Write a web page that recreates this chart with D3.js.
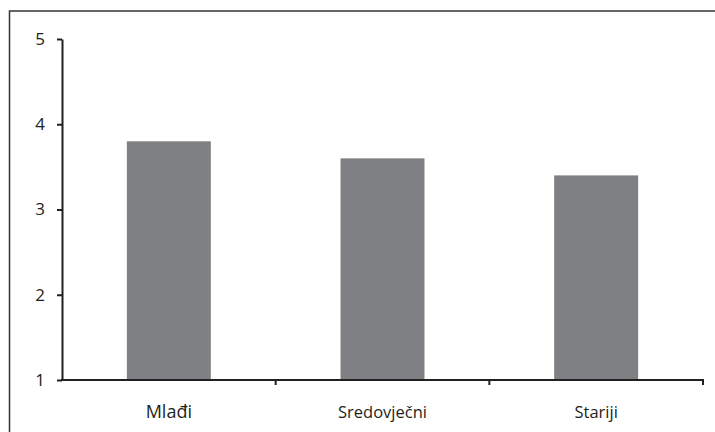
<!DOCTYPE html>
<html lang="hr">
<head>
  <meta charset="UTF-8">
  <title>Mlađi / Sredovječni / Stariji</title>
  <script src="https://d3js.org/d3.v7.min.js"></script>
  <style>
    body { margin: 0; background: #fff; }
    .axis path, .axis line { stroke: #231f20; stroke-width: 2px; }
    .cat { font-family: "Open Sans", sans-serif; fill: #231f20; }
  </style>
</head>
<body>
  <svg id="chart" width="715" height="432"></svg>
  <script>
    const categories = ["Mlađi", "Sredovječni", "Stariji"];
    const values = [3.8, 3.6, 3.4];
    const yTicks = [1, 2, 3, 4, 5];
    const labelSizes = [18, 16.5, 16.5];

    const width = 715, height = 432;
    const svg = d3.select("#chart");

    // frame (only top and left edges show in the picture)
    svg.append("path")
      .attr("d", `M9.5,${height} V11 H${width}`)
      .attr("fill", "none")
      .attr("stroke", "#333")
      .attr("stroke-width", 1.5);

    const x = d3.scaleBand().domain(categories).range([62, 703]).padding(0);
    const y = d3.scaleLinear().domain([1, 5]).range([380, 39]);
    const barW = x.bandwidth() * 0.393;

    // bars
    svg.append("g")
      .selectAll("rect")
      .data(values)
      .join("rect")
      .attr("x", (d, i) => x(categories[i]) + (x.bandwidth() - barW) / 2)
      .attr("y", d => y(d))
      .attr("width", barW)
      .attr("height", d => y(1) - y(d))
      .attr("fill", "#7f8083");

    // y axis
    const yAxis = svg.append("g")
      .attr("class", "axis")
      .attr("transform", "translate(62,0)")
      .call(d3.axisLeft(y).tickValues(yTicks).tickFormat(d3.format("d")).tickSize(5).tickSizeOuter(0).tickPadding(12));
    yAxis.selectAll("text")
      .style("font-family", "'Open Sans', sans-serif")
      .style("font-size", "17px")
      .attr("fill", "#231f20");

    // x axis line + ticks at category boundaries
    const xAxis = svg.append("g").attr("class", "axis");
    xAxis.append("path").attr("d", `M61,${y(1)} H704`);
    xAxis.selectAll("line")
      .data(categories)
      .join("line")
      .attr("x1", d => x(d) + x.bandwidth())
      .attr("x2", d => x(d) + x.bandwidth())
      .attr("y1", y(1))
      .attr("y2", y(1) + 5);

    // category labels
    svg.append("g")
      .selectAll("text")
      .data(categories)
      .join("text")
      .attr("class", "cat")
      .attr("x", d => x(d) + x.bandwidth() / 2)
      .attr("y", 418)
      .attr("text-anchor", "middle")
      .style("font-size", (d, i) => labelSizes[i] + "px")
      .text(d => d);
  </script>
</body>
</html>
